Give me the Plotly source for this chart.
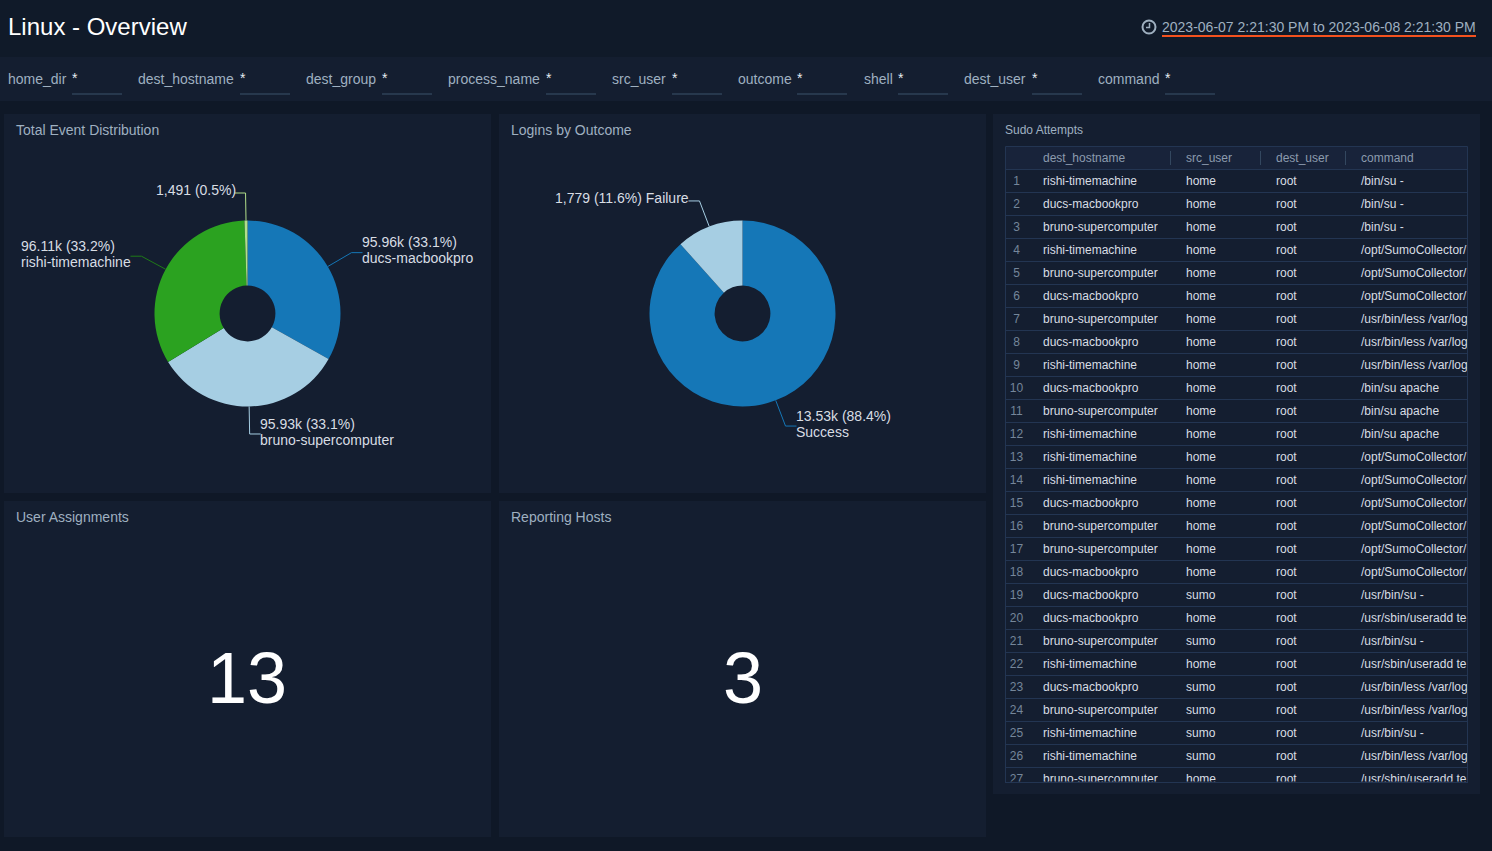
import math
import plotly.graph_objects as go

W, H = 1492, 851

# dashboard data
title = "Linux - Overview"
time_range = "2023-06-07 2:21:30 PM to 2023-06-08 2:21:30 PM"
filter_names = ["home_dir", "dest_hostname", "dest_group", "process_name", "src_user",
                "outcome", "shell", "dest_user", "command"]

host_names = ["ducs-macbookpro", "bruno-supercomputer", "rishi-timemachine", ""]
host_events = [95960, 95930, 96110, 1491]
host_value_text = ["95.96k (33.1%)", "95.93k (33.1%)", "96.11k (33.2%)", "1,491 (0.5%)"]

outcome_names = ["Success", "Failure"]
outcome_events = [13530, 1779]
outcome_value_text = ["13.53k (88.4%)", "1,779 (11.6%) Failure"]

user_assignments = 13
reporting_hosts = 3

table_columns = ["dest_hostname", "src_user", "dest_user", "command"]
D = "ducs-macbookpro"
B = "bruno-supercomputer"
R = "rishi-timemachine"
dest_hostname = [R, D, B, R, B, D, B, D, R, D, B, R, R, R, D, B, B, D, D, D, B, R, D, B, R, R, B]
src_user = ["home"] * 18 + ["sumo", "home", "sumo", "home", "sumo", "sumo", "sumo", "sumo", "home"]
dest_user = ["root"] * 27
SU = "/bin/su -"
OPT = "/opt/SumoCollector/"
LESS = "/usr/bin/less /var/log"
APACHE = "/bin/su apache"
USU = "/usr/bin/su -"
ADD = "/usr/sbin/useradd te"
command = [SU, SU, SU, OPT, OPT, OPT, LESS, LESS, LESS, APACHE, APACHE, APACHE,
           OPT, OPT, OPT, OPT, OPT, OPT, USU, ADD, USU, ADD, LESS, LESS, USU, LESS, ADD]
row_numbers = list(range(1, 28))

# colours
BG = "#0f1827"
HEAD = "#101a29"
PANEL = "#141e30"
GRID = "#233552"
LABEL = "#9fb0c0"
TEXT = "#d8dde4"
BLUE, LIGHT, GREEN, LIME = "#1577b7", "#a6cee3", "#2ba220", "#b2df8a"


def px(x):
    return x / W


def py(y):
    return 1 - y / H


def label(x, y, text, size=14, color=LABEL, anchor="left"):
    return dict(xref="paper", yref="paper", x=px(x), y=py(y), text=text, showarrow=False,
                xanchor=anchor, yanchor="middle", borderpad=0, borderwidth=0,
                font=dict(size=size, color=color))


def rect(x0, y0, x1, y1, fill, line=None):
    return dict(type="rect", xref="paper", yref="paper", x0=px(x0), x1=px(x1), y0=py(y0), y1=py(y1),
                fillcolor=fill, line=dict(width=1 if line else 0, color=line), layer="below")


def seg(points, color, width=1):
    d = "M" + " L".join(f"{px(x):.5f},{py(y):.5f}" for x, y in points)
    return dict(type="path", xref="paper", yref="paper", path=d, line=dict(color=color, width=width),
                layer="above")


R_PIE = 93
PIE_Y = 313.5
ELBOW_R = 120.5


def connector(cx, values, i, side, color):
    # runs from the middle of slice i out to an elbow, then sideways
    total = sum(values)
    a = 2 * math.pi * (sum(values[:i]) + values[i] / 2) / total
    sx, sy = cx + R_PIE * math.sin(a), PIE_Y - R_PIE * math.cos(a)
    ex, ey = cx + ELBOW_R * math.sin(a), PIE_Y - ELBOW_R * math.cos(a)
    return seg([(sx, sy), (ex, ey), (ex + side * 11, ey)], color)


def pie_domain(cx):
    return dict(x=[px(cx - R_PIE), px(cx + R_PIE)], y=[py(PIE_Y + R_PIE), py(PIE_Y - R_PIE)])


fig = go.Figure()

fig.add_trace(go.Pie(labels=["ducs-macbookpro", "bruno-supercomputer", "rishi-timemachine", "other"],
                     values=host_events, hole=0.3, sort=False, direction="clockwise", rotation=0,
                     textinfo="none", hoverinfo="label+value", domain=pie_domain(247.5),
                     marker=dict(colors=[BLUE, LIGHT, GREEN, LIME], line=dict(width=0)), showlegend=False))
fig.add_trace(go.Pie(labels=outcome_names, values=outcome_events, hole=0.3, sort=False,
                     direction="clockwise", rotation=0, textinfo="none", hoverinfo="label+value",
                     domain=pie_domain(742.5), marker=dict(colors=[BLUE, LIGHT], line=dict(width=0)),
                     showlegend=False))

# table body, x axis is in page pixels so the columns can be placed directly
TABLE_L, TABLE_R = 1006, 1467
BODY_T, BODY_B = 170, 781.5
ROW_H = 23
FIRST_ROW_Y = 182
FIRST_LINE_Y = 192.5
col_x = [1043, 1186, 1276, 1361]

fig.add_trace(go.Scatter(x=[1016.5] * len(row_numbers), y=row_numbers, mode="text",
                         text=[str(n) for n in row_numbers], textposition="middle center",
                         textfont=dict(size=12, color="#75869a"), hoverinfo="skip", showlegend=False))
for cx, col in zip(col_x, [dest_hostname, src_user, dest_user, command]):
    fig.add_trace(go.Scatter(x=[cx] * len(col), y=row_numbers, mode="text", text=col,
                             textposition="middle right", textfont=dict(size=12, color=TEXT),
                             hoverinfo="skip", showlegend=False))

shapes = [
    rect(0, 0, W, 57, HEAD),
    rect(0, 57, W, 101, PANEL),
    rect(4, 114, 491, 493, PANEL),
    rect(499, 114, 986, 493, PANEL),
    rect(4, 501, 491, 837, PANEL),
    rect(499, 501, 986, 837, PANEL),
    rect(993, 114, 1480, 794, PANEL),
    rect(TABLE_L - 0.5, 146.5, TABLE_R + 0.5, 169.5, "#18233a", GRID),
    seg([(1162, 36), (1476, 36)], "#f4511e", 2),
    dict(type="circle", xref="paper", yref="paper", x0=px(1142.5), x1=px(1155.5), y0=py(33.5), y1=py(20.5),
         line=dict(color=LABEL, width=2)),
    seg([(1149.5, 23), (1149.5, 27.5), (1146, 27.5)], LABEL, 1.5),
]
for x in [1170.5, 1260.5, 1345.5]:
    shapes.append(seg([(x, 151), (x, 165)], "#33475f"))

annotations = [
    label(8, 27, title, size=24, color="#ffffff"),
    label(1162, 27, time_range, size=14, color=LABEL),
    label(16, 130, "Total Event Distribution"),
    label(511, 130, "Logins by Outcome"),
    label(16, 517, "User Assignments"),
    label(511, 517, "Reporting Hosts"),
    label(1005, 130, "Sudo Attempts", size=12),
    label(246.5, 678, str(user_assignments), size=72, color="#ffffff", anchor="center"),
    label(742.5, 678, str(reporting_hosts), size=72, color="#ffffff", anchor="center"),
]

# filter bar
label_x = [8, 138, 306, 448, 612, 737.5, 863.5, 964, 1098]
input_x = [72, 240, 382, 546, 672, 797, 898, 1032, 1165]
for name, lx, ix in zip(filter_names, label_x, input_x):
    annotations.append(label(lx, 79, name))
    annotations.append(label(ix, 78, "*", color="#e8edf2"))
    shapes.append(seg([(ix, 94), (ix + 50, 94)], "#3b536b"))

for cx, name in zip(col_x, table_columns):
    annotations.append(label(cx, 158, name, size=12, color="#8c9bae"))

# pie connectors and their labels
shapes += [
    connector(247.5, host_events, 0, 1, BLUE),
    connector(247.5, host_events, 1, 1, LIGHT),
    connector(247.5, host_events, 2, -1, "#1f7a18"),
    connector(247.5, host_events, 3, -1, LIME),
    connector(742.5, outcome_events, 0, 1, BLUE),
    connector(742.5, outcome_events, 1, -1, LIGHT),
]
annotations += [
    label(362, 242, host_value_text[0], color=TEXT),
    label(362, 258, host_names[0], color=TEXT),
    label(260, 424, host_value_text[1], color=TEXT),
    label(260, 440, host_names[1], color=TEXT),
    label(21, 246, host_value_text[2], color=TEXT),
    label(21, 262, host_names[2], color=TEXT),
    label(236, 190, host_value_text[3], color=TEXT, anchor="right"),
    label(795.5, 416, outcome_value_text[0], color=TEXT),
    label(795.5, 432, outcome_names[0], color=TEXT),
    label(689, 198, outcome_value_text[1], color=TEXT, anchor="right"),
]

fig.update_layout(
    width=W, height=H, margin=dict(l=0, r=0, t=0, b=0),
    paper_bgcolor=BG, plot_bgcolor="rgba(0,0,0,0)",
    font=dict(family="Liberation Sans, Arial, sans-serif", size=14, color=TEXT),
    shapes=shapes, annotations=annotations, showlegend=False,
    xaxis=dict(domain=[px(TABLE_L), px(TABLE_R)], range=[TABLE_L, TABLE_R], showgrid=False, zeroline=False,
               showticklabels=False, ticks="", showline=True, mirror=True, linecolor=GRID, linewidth=1),
    yaxis=dict(domain=[py(BODY_B), py(BODY_T)],
               range=[1 + (BODY_B - FIRST_ROW_Y) / ROW_H, 1 + (BODY_T - FIRST_ROW_Y) / ROW_H],
               tick0=(FIRST_LINE_Y - FIRST_ROW_Y) / ROW_H, dtick=1, showgrid=True, gridcolor=GRID, gridwidth=1,
               zeroline=False, showticklabels=False, ticks="", showline=True, mirror=True,
               linecolor=GRID, linewidth=1),
)

# drop the browser's default page margin so the figure fills the window
fig.write_html("out.html", config=dict(displayModeBar=False),
               post_script="document.body.style.margin='0';document.body.style.overflow='hidden';")
